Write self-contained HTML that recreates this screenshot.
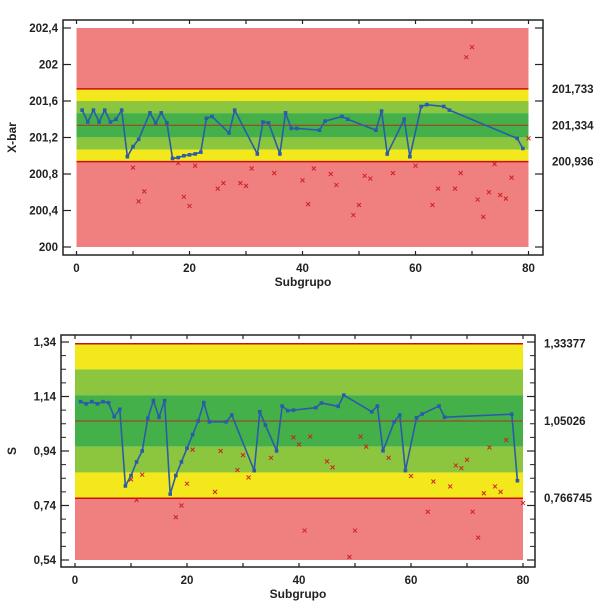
<!DOCTYPE html>
<html><head><meta charset="utf-8">
<style>
html,body{margin:0;padding:0;background:#fff;}
svg{display:block;font-family:"Liberation Sans",Arial,sans-serif;font-weight:bold;}
</style></head>
<body>
<svg id="chart" width="600" height="609" viewBox="0 0 600 609" xmlns="http://www.w3.org/2000/svg"></svg>
<script>
// ---- X-bar chart data ----
const xbarIdx = [1,2,3,4,5,6,7,8,9,10,11,13,14,15,16,17,18,19,20,21,22,23,24,27,28,32,33,34,36,37,38,39,43,44,47,48,53,54,55,58,59,61,62,65,66,78,79];
const xbarVal = [201.50,201.37,201.50,201.37,201.50,201.37,201.40,201.50,200.99,201.10,201.18,201.47,201.36,201.47,201.36,200.97,200.98,201.00,201.01,201.02,201.04,201.41,201.43,201.25,201.50,201.02,201.37,201.36,201.02,201.47,201.30,201.30,201.28,201.38,201.43,201.40,201.28,201.49,201.02,201.40,200.99,201.54,201.56,201.54,201.50,201.19,201.08];
const xbarExIdx = [10,11,12,18,19,20,21,25,26,29,30,31,35,40,41,42,45,46,49,50,51,52,56,60,63,64,67,68,69,70,71,72,73,74,75,76,77,80];
const xbarExVal = [200.87,200.50,200.61,200.92,200.55,200.45,200.89,200.64,200.70,200.70,200.67,200.86,200.81,200.73,200.47,200.86,200.80,200.68,200.35,200.46,200.78,200.75,200.81,200.89,200.46,200.64,200.64,200.81,202.08,202.19,200.52,200.33,200.60,200.91,200.57,200.53,200.76,201.19];
const xbarLimits = [201.733, 201.334, 200.936];
const xbarTicks = [200, 200.4, 200.8, 201.2, 201.6, 202, 202.4];
const xbarTickLabels = ["200","200,4","200,8","201,2","201,6","202","202,4"];
const xbarLimitLabels = ["201,733","201,334","200,936"];
// ---- S chart data ----
const sIdx = [1,2,3,4,5,6,7,8,9,10,11,12,13,14,15,16,17,18,19,20,21,22,23,24,27,28,32,33,34,36,37,38,39,43,44,47,48,53,54,55,57,58,59,61,62,65,66,78,79];
const sVal = [1.121,1.113,1.121,1.113,1.121,1.117,1.066,1.093,0.812,0.85,0.9,0.94,1.06,1.125,1.064,1.125,0.782,0.85,0.9,0.95,1.0,1.05,1.117,1.047,1.047,1.072,0.868,1.084,1.035,0.941,1.105,1.088,1.09,1.099,1.116,1.104,1.145,1.084,1.105,0.941,1.047,1.072,0.868,1.062,1.076,1.105,1.064,1.075,0.831];
const sExIdx = [10,11,12,18,19,20,21,25,26,29,30,31,35,39,40,41,42,45,46,49,50,51,52,56,60,63,64,67,68,69,70,71,72,73,74,75,76,77,80];
const sExVal = [0.836,0.760,0.853,0.697,0.74,0.82,0.945,0.790,0.94,0.87,0.925,0.843,0.915,0.99,0.964,0.648,0.993,0.902,0.88,0.551,0.648,0.993,0.956,0.915,0.848,0.717,0.828,0.81,0.887,0.877,0.908,0.717,0.622,0.785,0.953,0.81,0.79,0.98,0.749];
const sLimits = [1.33377, 1.05026, 0.766745];
const sTicks = [0.54, 0.74, 0.94, 1.14, 1.34];
const sTickLabels = ["0,54","0,74","0,94","1,14","1,34"];
const sLimitLabels = ["1,33377","1,05026","0,766745"];
const xTicks = [0,20,40,60,80];

const svg = document.getElementById('chart');
const NS = 'http://www.w3.org/2000/svg';
function el(tag, attrs, parent){const e=document.createElementNS(NS,tag);for(const k in attrs)e.setAttribute(k,attrs[k]);(parent||svg).appendChild(e);return e;}

function drawChart(cfg){
  const g = el('g',{});
  
  
  const xs = v => cfg.x0 + (v/80)*(cfg.x1-cfg.x0);
  const ys = v => cfg.yTop + (cfg.vTop - v)/(cfg.vTop-cfg.vBot)*(cfg.yBot-cfg.yTop);
  const [ucl, cl, lcl] = cfg.limits;
  const sig = (ucl-cl)/3;
  const bx = xs(0), bw = xs(80)-xs(0);
  const bands = [
    [cfg.redTop ? cfg.vTop : ucl, ucl, '#f08080', 'band-upper-red'],
    [ucl, cl+2*sig, '#f2e81c', 'band-upper-yellow'],
    [cl+2*sig, cl+sig, '#8cc63f', 'band-upper-lightgreen'],
    [cl+sig, cl-sig, '#43b049', 'band-center-green'],
    [cl-sig, cl-2*sig, '#8cc63f', 'band-lower-lightgreen'],
    [cl-2*sig, lcl, '#f2e81c', 'band-lower-yellow'],
    [lcl, cfg.vBot, '#f08080', 'band-lower-red']
  ];
  bands.forEach(b=>{
    const r = el('rect',{x:bx,y:ys(b[0]),width:bw,height:ys(b[1])-ys(b[0]),fill:b[2]},g);
    
    
  });
  cfg.limits.forEach((l,i)=>{
    const ln = el('line',{x1:bx,x2:bx+bw,y1:ys(l),y2:ys(l),stroke:i==1?'#b03020':'#d01010','stroke-width':i==1?1:1.5},g);
    
    
    const t = el('text',{x:cfg.fx1+9,y:ys(l)+4,'font-size':11.5,fill:'#222'},g);
    t.textContent = cfg.limitLabels[i];
    
    
  });
  const fr = el('rect',{x:cfg.fx0,y:cfg.fy0,width:cfg.fx1-cfg.fx0,height:cfg.fy1-cfg.fy0,fill:'none',stroke:'#222','stroke-width':1.5},g);
  
  
  cfg.yTicks.forEach((v,i)=>{
    el('line',{x1:cfg.fx0,x2:cfg.fx0+8,y1:ys(v),y2:ys(v),stroke:'#222','stroke-width':1.2},g);
    el('line',{x1:cfg.fx1,x2:cfg.fx1-8,y1:ys(v),y2:ys(v),stroke:'#222','stroke-width':1.2},g);
    const t = el('text',{x:cfg.fx0-5,y:ys(v)+4,'text-anchor':'end','font-size':11.5,fill:'#222'},g);
    t.textContent = cfg.yTickLabels[i];
    
    
  });
  if(cfg.minor){
    for(let v=cfg.vBot; v<=cfg.vTop+1e-9; v+=cfg.minor){
      el('line',{x1:cfg.fx0,x2:cfg.fx0+5,y1:ys(v),y2:ys(v),stroke:'#222','stroke-width':1},g);
      el('line',{x1:cfg.fx1,x2:cfg.fx1-5,y1:ys(v),y2:ys(v),stroke:'#222','stroke-width':1},g);
    }
  }
  for(let v=0; v<=80; v+=10){
    el('line',{x1:xs(v),x2:xs(v),y1:cfg.fy0,y2:cfg.fy0+4,stroke:'#222','stroke-width':1.2},g);
    el('line',{x1:xs(v),x2:xs(v),y1:cfg.fy1,y2:cfg.fy1-4,stroke:'#222','stroke-width':1.2},g);
  }
  xTicks.forEach(v=>{
    const t = el('text',{x:xs(v),y:cfg.fy1+17,'text-anchor':'middle','font-size':11.5,fill:'#222'},g);
    t.textContent = String(v);
    
    
  });
  const xt = el('text',{x:(cfg.fx0+cfg.fx1)/2,y:cfg.fy1+31,'text-anchor':'middle','font-size':12,fill:'#222'},g);
  xt.textContent='Subgrupo';
  
  
  const yt = el('text',{x:0,y:0,'text-anchor':'middle','font-size':12,fill:'#222',transform:`translate(16,${(cfg.fy0+cfg.fy1)/2}) rotate(-90)`},g);
  yt.textContent=cfg.yTitle;
  
  
  cfg.exIdx.forEach((ix,i)=>{
    const px=xs(ix), py=ys(cfg.exVal[i]);
    const p = el('path',{d:`M${px-2} ${py-2}L${px+2} ${py+2}M${px+2} ${py-2}L${px-2} ${py+2}`,stroke:'#d02020','stroke-width':1},g);
    
    
  });
  const pts = cfg.idx.map((ix,i)=>xs(ix)+','+ys(cfg.val[i])).join(' ');
  const pl = el('polyline',{points:pts,fill:'none',stroke:'#2a5caa','stroke-width':1.6},g);
  
  
  cfg.idx.forEach((ix,i)=>{
    const m = el('rect',{x:xs(ix)-1.8,y:ys(cfg.val[i])-1.8,width:3.6,height:3.6,fill:'#2a5caa'},g);
    
    
  });
}

drawChart({name:'xbar-chart',x0:76.5,x1:528.5,yTop:28,yBot:247,vTop:202.4,vBot:200,
  fx0:63,fx1:543,fy0:20,fy1:255,limits:xbarLimits,limitLabels:xbarLimitLabels,
  yTicks:xbarTicks,yTickLabels:xbarTickLabels,redTop:true,yTitle:'X-bar',
  idx:xbarIdx,val:xbarVal,exIdx:xbarExIdx,exVal:xbarExVal});
drawChart({name:'s-chart',x0:75,x1:523,yTop:342,yBot:560,vTop:1.34,vBot:0.54,
  fx0:61,fx1:535,fy0:335,fy1:567,limits:sLimits,limitLabels:sLimitLabels,
  yTicks:sTicks,yTickLabels:sTickLabels,redTop:false,minor:0.05,yTitle:'S',
  idx:sIdx,val:sVal,exIdx:sExIdx,exVal:sExVal});
</script>
</body></html>
